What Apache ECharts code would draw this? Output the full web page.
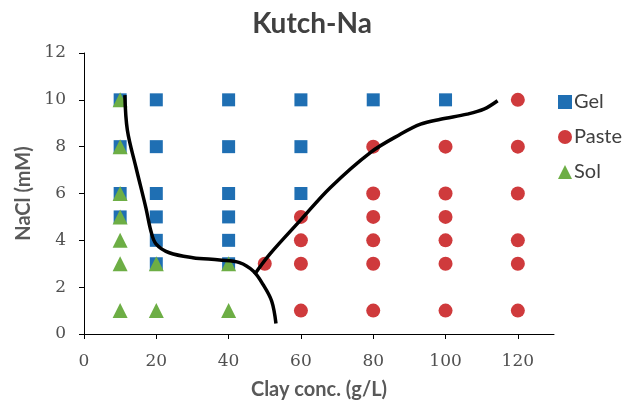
<!DOCTYPE html>
<html>
<head>
<meta charset="utf-8">
<script src="https://cdn.jsdelivr.net/npm/echarts@6/dist/echarts.min.js"></script>
<style>
  html, body { margin: 0; padding: 0; background: #ffffff; }
  #chart { width: 624px; height: 412px; }
</style>
</head>
<body>
<div id="chart"></div>
<script>
// Rheological state of Kutch-Na clay dispersions: clay concentration (g/L) vs NaCl (mM)
const xTicks = [0, 20, 40, 60, 80, 100, 120];
const yTicks = [0, 2, 4, 6, 8, 10, 12];

const gelPoints = [
  [10, 10], [20, 10], [40, 10], [60, 10], [80, 10], [100, 10],
  [10, 8], [20, 8], [40, 8], [60, 8],
  [10, 6], [20, 6], [40, 6], [60, 6],
  [10, 5], [20, 5], [40, 5],
  [20, 4], [40, 4],
  [20, 3], [40, 3]
];

const pastePoints = [
  [120, 10],
  [80, 8], [100, 8], [120, 8],
  [80, 6], [100, 6], [120, 6],
  [60, 5], [80, 5], [100, 5],
  [60, 4], [80, 4], [100, 4], [120, 4],
  [50, 3], [60, 3], [80, 3], [100, 3], [120, 3],
  [60, 1], [80, 1], [100, 1], [120, 1]
];

const solPoints = [
  [10, 10], [10, 8], [10, 6], [10, 5], [10, 4], [10, 3],
  [20, 3], [40, 3],
  [10, 1], [20, 1], [40, 1]
];

// Hand-drawn phase boundaries
const solBoundary = [
  [11.3, 10.2], [12.0, 8.7], [14.4, 7.1], [17.1, 5.4], [18.5, 4.4],
  [19.9, 3.85], [23.6, 3.47], [30.1, 3.26], [37.5, 3.16], [43.0, 3.05],
  [46.8, 2.69], [49.5, 2.12], [51.9, 1.41], [53.1, 0.45]
];
const pasteBoundary = [
  [47.2, 2.55], [51.4, 3.41], [59.7, 4.83], [68.1, 6.25], [79.2, 7.75],
  [87.5, 8.53], [93.1, 8.96], [98.6, 9.17], [106.0, 9.39], [110.6, 9.6],
  [114.4, 9.96]
];

const labelFont = { fontFamily: 'DejaVu Serif', fontSize: 17, color: '#505050' };
const nameFont = { fontFamily: 'Lato', fontWeight: 'bold', fontSize: 20, color: '#595959' };

const chart = echarts.init(document.getElementById('chart'), null, { renderer: 'canvas' });

function boundary(data) {
  return {
    type: 'line',
    data: data,
    smooth: 0.35,
    showSymbol: false,
    symbol: 'none',
    lineStyle: { color: '#000000', width: 3.5 },
    z: 5,
    silent: true
  };
}

chart.setOption({
  animation: false,
  backgroundColor: '#ffffff',
  title: {
    text: 'Kutch-Na',
    left: 'center',
    top: 5,
    textStyle: { fontFamily: 'Lato', fontWeight: 'bold', fontSize: 28, color: '#404040' }
  },
  legend: {
    data: [
      { name: 'Gel', icon: 'rect' },
      { name: 'Paste', icon: 'circle' },
      { name: 'Sol', icon: 'triangle' }
    ],
    orient: 'vertical',
    left: 553,
    top: 87,
    itemWidth: 14,
    itemHeight: 14,
    itemGap: 15,
    textStyle: { fontFamily: 'Lato', fontSize: 20, color: '#404040', padding: [0, 0, 0, -3] }
  },
  grid: { left: 84, right: 70, top: 53, bottom: 78 },
  xAxis: {
    type: 'value',
    min: 0,
    max: 130,
    interval: 20,
    name: 'Clay conc. (g/L)',
    nameLocation: 'middle',
    nameGap: 46,
    nameTextStyle: nameFont,
    axisLine: { show: true, onZero: false, lineStyle: { color: '#000000', width: 1 } },
    axisTick: { show: true, inside: false, length: 5, customValues: xTicks, lineStyle: { color: '#000000' } },
    axisLabel: Object.assign({ margin: 19, customValues: xTicks }, labelFont),
    splitLine: { show: false }
  },
  yAxis: {
    type: 'value',
    min: 0,
    max: 12,
    interval: 2,
    name: 'NaCl (mM)',
    nameLocation: 'middle',
    nameGap: 46,
    nameTextStyle: nameFont,
    axisLine: { show: true, onZero: false, lineStyle: { color: '#000000', width: 1 } },
    axisTick: { show: true, inside: false, length: 5, customValues: yTicks, lineStyle: { color: '#000000' } },
    axisLabel: Object.assign({ margin: 18, customValues: yTicks }, labelFont),
    splitLine: { show: false }
  },
  series: [
    {
      name: 'Gel',
      type: 'scatter',
      symbol: 'rect',
      symbolSize: 13,
      itemStyle: { color: '#1F6FB3', opacity: 1 },
      data: gelPoints,
      z: 2
    },
    {
      name: 'Paste',
      type: 'scatter',
      symbol: 'circle',
      symbolSize: 14,
      itemStyle: { color: '#CF3A3C', opacity: 1 },
      data: pastePoints,
      z: 3
    },
    {
      name: 'Sol',
      type: 'scatter',
      symbol: 'triangle',
      symbolSize: 15,
      itemStyle: { color: '#6DAE45', opacity: 1 },
      data: solPoints,
      z: 4
    },
    boundary(solBoundary),
    boundary(pasteBoundary)
  ]
});
</script>
</body>
</html>
